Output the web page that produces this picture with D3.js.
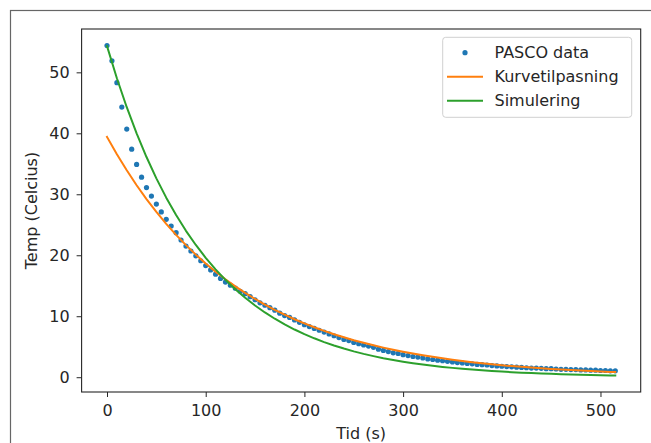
<!DOCTYPE html>
<html>
<head>
<meta charset="utf-8">
<script src="https://cdn.jsdelivr.net/npm/d3@7"></script>
<style>
  html, body { margin: 0; padding: 0; background: #fff; }
  svg { display: block; }
  text { font-family: "DejaVu Sans", sans-serif; fill: #262626; }
</style>
</head>
<body>
<script>
// ---- Data ----
const dataTimes = d3.range(0, 520, 5); // measurement times, every 5 s (0..515)
const pascoTemp = [
  54.4, 51.9, 48.3, 44.3, 40.7, 37.4, 34.9, 32.8, 31.1, 29.7,
  28.4, 27.1, 25.9, 24.8, 23.7, 22.5, 21.5, 20.7, 19.9, 19.1,
  18.3, 17.6, 16.9, 16.2, 15.6, 15.1, 14.6, 14.1, 13.7, 13.2,
  12.7, 12.2, 11.8, 11.4, 11.0, 10.5, 10.1, 9.8, 9.4, 9.0,
  8.6, 8.3, 8.0, 7.7, 7.4, 7.1, 6.8, 6.5, 6.2, 6.0,
  5.7, 5.5, 5.3, 5.1, 4.9, 4.6, 4.4, 4.2, 4.0, 3.9,
  3.7, 3.55, 3.4, 3.3, 3.15, 3.0, 2.9, 2.8, 2.7, 2.6,
  2.5, 2.4, 2.35, 2.25, 2.2, 2.1, 2.05, 2.0, 1.9, 1.85,
  1.8, 1.75, 1.7, 1.65, 1.6, 1.55, 1.5, 1.5, 1.45, 1.4,
  1.4, 1.35, 1.3, 1.3, 1.25, 1.25, 1.2, 1.2, 1.15, 1.15,
  1.1, 1.1, 1.05, 1.05
];
const curveTimes = [
  0, 10, 20, 30, 40, 50, 60, 70, 80, 90, 100, 110, 120, 130, 140, 150, 160, 170, 180, 190,
  200, 210, 220, 230, 240, 250, 260, 270, 280, 290, 300, 310, 320, 330, 340, 350, 360, 370, 380, 390,
  400, 410, 420, 430, 440, 450, 460, 470, 480, 490, 500, 510, 515
];
const fitTemp = [
  39.40, 36.56, 33.93, 31.48, 29.21, 27.11, 25.15, 23.34, 21.66, 20.10,
  18.65, 17.31, 16.06, 14.90, 13.83, 12.83, 11.91, 11.05, 10.25, 9.51,
  8.83, 8.19, 7.60, 7.05, 6.55, 6.07, 5.64, 5.23, 4.85, 4.50,
  4.18, 3.88, 3.60, 3.34, 3.10, 2.87, 2.67, 2.47, 2.30, 2.13,
  1.98, 1.83, 1.70, 1.58, 1.46, 1.36, 1.26, 1.17, 1.09, 1.01,
  0.94, 0.87, 0.84
];
const simTemp = [
  54.30, 49.03, 44.28, 39.99, 36.11, 32.61, 29.45, 26.59, 24.01, 21.69,
  19.58, 17.69, 15.97, 14.42, 13.02, 11.76, 10.62, 9.59, 8.66, 7.82,
  7.06, 6.38, 5.76, 5.20, 4.70, 4.24, 3.83, 3.46, 3.12, 2.82,
  2.55, 2.30, 2.08, 1.88, 1.69, 1.53, 1.38, 1.25, 1.13, 1.02,
  0.92, 0.83, 0.75, 0.68, 0.61, 0.55, 0.50, 0.45, 0.41, 0.37,
  0.33, 0.30, 0.28
];
const xTicks = [0, 100, 200, 300, 400, 500];
const yTicks = [0, 10, 20, 30, 40, 50];
const legendLabels = ["PASCO data", "Kurvetilpasning", "Simulering"];
const colors = ["#1f77b4", "#ff7f0e", "#2ca02c"];
const xLabel = "Tid (s)";
const yLabel = "Temp (Celcius)";

// ---- Layout ----
const W = 651, H = 443;
const plot = { left: 81.6, right: 640.7, top: 29, bottom: 392 };

const svg = d3.select("body").append("svg").attr("width", W).attr("height", H);

// outer frame (figure border)
svg.append("rect").attr("x", 10.5).attr("y", 10.5).attr("width", 800).attr("height", 600)
  .attr("fill", "none").attr("stroke", "#666").attr("stroke-width", 1.2);

// scales with matplotlib-like 5% margins
const xMin = d3.min(dataTimes), xMax = d3.max(dataTimes);
const xPad = (xMax - xMin) * 0.05;
const allY = pascoTemp.concat(fitTemp, simTemp);
const yMinD = d3.min(allY), yMaxD = d3.max(allY);
const yPad = (yMaxD - yMinD) * 0.05;
const x = d3.scaleLinear().domain([xMin - xPad, xMax + xPad]).range([plot.left, plot.right]);
const y = d3.scaleLinear().domain([yMinD - yPad, yMaxD + yPad]).range([plot.bottom, plot.top]);

const g = svg.append("g");

// clip
svg.append("clipPath").attr("id", "clip").append("rect")
  .attr("x", plot.left).attr("y", plot.top)
  .attr("width", plot.right - plot.left).attr("height", plot.bottom - plot.top);

const content = g.append("g").attr("clip-path", "url(#clip)");

// data dots
content.append("g").selectAll("circle").data(dataTimes.map((t, i) => [t, pascoTemp[i]]))
  .join("circle")
  .attr("cx", d => x(d[0])).attr("cy", d => y(d[1])).attr("r", 2.6)
  .attr("fill", colors[0]);

const line = d3.line().x(d => x(d[0])).y(d => y(d[1]));
content.append("path").datum(curveTimes.map((t, i) => [t, fitTemp[i]]))
  .attr("d", line).attr("fill", "none").attr("stroke", colors[1]).attr("stroke-width", 2)
  .attr("stroke-linejoin", "round").attr("stroke-linecap", "square");
content.append("path").datum(curveTimes.map((t, i) => [t, simTemp[i]]))
  .attr("d", line).attr("fill", "none").attr("stroke", colors[2]).attr("stroke-width", 2)
  .attr("stroke-linejoin", "round").attr("stroke-linecap", "square");

// axes
const fs = 16;
const xAxis = d3.axisBottom(x).tickValues(xTicks).tickSize(5).tickPadding(8).tickFormat(d3.format("d"));
const yAxis = d3.axisLeft(y).tickValues(yTicks).tickSize(5).tickPadding(7).tickFormat(d3.format("d"));

const gx = g.append("g").attr("transform", `translate(0,${plot.bottom})`).call(xAxis);
const gy = g.append("g").attr("transform", `translate(${plot.left},0)`).call(yAxis);
[gx, gy].forEach(a => {
  a.select(".domain").remove();
  a.selectAll(".tick line").attr("stroke", "#262626").attr("stroke-width", 1);
  a.selectAll(".tick text").attr("font-size", fs).attr("font-family", "DejaVu Sans, sans-serif").attr("fill", "#262626");
});

// spines
g.append("rect").attr("x", plot.left).attr("y", plot.top)
  .attr("width", plot.right - plot.left).attr("height", plot.bottom - plot.top)
  .attr("fill", "none").attr("stroke", "#262626").attr("stroke-width", 1.1);

// axis labels
svg.append("text").attr("x", (plot.left + plot.right) / 2).attr("y", 439)
  .attr("text-anchor", "middle").attr("font-size", fs).text(xLabel);
svg.append("text").attr("transform", `translate(36.5,${(plot.top + plot.bottom) / 2}) rotate(-90)`)
  .attr("text-anchor", "middle").attr("font-size", fs).text(yLabel);

// legend
const leg = svg.append("g");
leg.append("rect").attr("x", 442.7).attr("y", 37.3).attr("width", 189).attr("height", 80)
  .attr("rx", 3).attr("fill", "#fff").attr("fill-opacity", 0.8)
  .attr("stroke", "#d0d0d0").attr("stroke-width", 1);
legendLabels.forEach((lab, i) => {
  const cy = 52.7 + i * 24;
  if (i === 0) {
    leg.append("circle").attr("cx", 465).attr("cy", cy).attr("r", 2.6).attr("fill", colors[0]);
  } else {
    leg.append("line").attr("x1", 447).attr("x2", 483).attr("y1", cy).attr("y2", cy)
      .attr("stroke", colors[i]).attr("stroke-width", 2);
  }
  leg.append("text").attr("x", 494.5).attr("y", cy).attr("dy", "0.36em")
    .attr("font-size", fs).text(lab);
});
</script>
</body>
</html>
